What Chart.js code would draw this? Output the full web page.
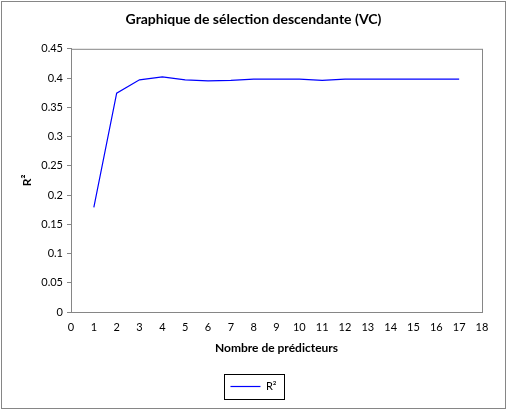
<!DOCTYPE html>
<html lang="fr">
<head>
    <meta charset="UTF-8">
    <title>Graphique de sélection descendante (VC)</title>
    <script src="https://cdn.jsdelivr.net/npm/chart.js"></script>
    <style>
        body { margin: 0; background: #ffffff; }
        #zone { width: 507px; height: 410px; }
    </style>
</head>
<body>
    <div id="zone">
        <canvas id="graphique"></canvas>
    </div>
<script>
    // données
    const predicteurs = [1, 2, 3, 4, 5, 6, 7, 8, 9, 10, 11, 12, 13, 14, 15, 16, 17];
    const valeursR2 = [0.179, 0.374, 0.397, 0.402, 0.397, 0.395, 0.396, 0.398, 0.398, 0.398, 0.396, 0.398, 0.398, 0.398, 0.398, 0.398, 0.398];
    const xTickLabels = ['0', '1', '2', '3', '4', '5', '6', '7', '8', '9', '10', '11', '12', '13', '14', '15', '16', '17', '18'];
    const yTickLabels = ['0', '0.05', '0.1', '0.15', '0.2', '0.25', '0.3', '0.35', '0.4', '0.45'];

    const police = "Lato, 'Open Sans', sans-serif";
    const gris = '#868686';

    // cadre du graphique, cadre de la zone de tracé et cadre de la légende
    const cadres = {
        id: 'cadres',
        afterDraw(chart) {
            const ctx = chart.ctx;
            const a = chart.chartArea;
            ctx.save();
            ctx.lineWidth = 1;
            ctx.strokeStyle = gris;
            ctx.strokeRect(a.left + 0.5, a.top + 0.5, a.right - a.left, a.bottom - a.top);
            ctx.strokeRect(1.5, 1.5, chart.width - 3, chart.height - 3);
            const box = chart.legend.legendHitBoxes[0];
            if (box) {
                const cx = box.left + box.width / 2;
                const cy = box.top + box.height / 2;
                ctx.strokeStyle = '#000000';
                ctx.strokeRect(Math.round(cx - 30) + 0.5, Math.round(cy - 12.5) + 0.5, 60, 25);
            }
            ctx.restore();
        }
    };

    var dados = {
        datasets: [{
            label: 'R²',
            data: predicteurs.map(function (p, i) { return { x: p, y: valeursR2[i] }; }),
            borderColor: '#0000ff',
            backgroundColor: '#0000ff',
            borderWidth: 1.2,
            pointRadius: 0,
            pointStyle: 'line',
            tension: 0,
            fill: false
        }]
    };

    const config = {
        type: 'line',
        data: dados,
        plugins: [cadres],
        options: {
            responsive: true,
            maintainAspectRatio: false,
            animation: false,
            layout: { padding: { left: 0, right: 0, top: 0, bottom: 8 } },
            plugins: {
                title: {
                    display: true,
                    text: 'Graphique de sélection descendante (VC)',
                    color: '#000000',
                    font: { family: police, size: 14, weight: 'bold' },
                    padding: { top: 11, bottom: 21 }
                },
                legend: {
                    display: true,
                    position: 'bottom',
                    labels: {
                        usePointStyle: true,
                        pointStyleWidth: 30,
                        color: '#000000',
                        font: { family: police, size: 11 },
                        padding: 6
                    }
                },
                tooltip: { enabled: false }
            },
            scales: {
                x: {
                    type: 'linear',
                    min: 0,
                    max: 18,
                    ticks: {
                        stepSize: 1,
                        color: '#000000',
                        font: { family: police, size: 11 },
                        maxRotation: 0,
                        padding: 1,
                        callback: function (v, i) { return xTickLabels[i]; }
                    },
                    grid: { display: false },
                    border: { color: gris },
                    title: {
                        display: true,
                        text: 'Nombre de prédicteurs',
                        color: '#000000',
                        font: { family: police, size: 12, weight: 'bold' },
                        padding: { top: 4, bottom: 20 }
                    },
                    afterFit: function (scale) { scale.height = 63; }
                },
                y: {
                    min: 0,
                    max: 0.45,
                    ticks: {
                        stepSize: 0.05,
                        color: '#000000',
                        font: { family: police, size: 11 },
                        padding: 4,
                        callback: function (v, i) { return yTickLabels[i]; }
                    },
                    grid: { drawOnChartArea: false, tickLength: 4, color: gris },
                    border: { color: gris },
                    title: {
                        display: true,
                        text: 'R²',
                        color: '#000000',
                        font: { family: police, size: 12, weight: 'bold' },
                        padding: { top: 20, bottom: 0 }
                    },
                    afterFit: function (scale) { scale.width = 71; }
                },
                // axe vide à droite, pour réserver la marge sans décaler le titre
                marge: {
                    type: 'linear',
                    position: 'right',
                    display: true,
                    ticks: { display: false },
                    grid: { display: false },
                    border: { display: false },
                    afterFit: function (scale) { scale.width = 25; }
                }
            }
        }
    };

    let myChart = new Chart(document.getElementById('graphique'), config);
</script>
</body>
</html>
